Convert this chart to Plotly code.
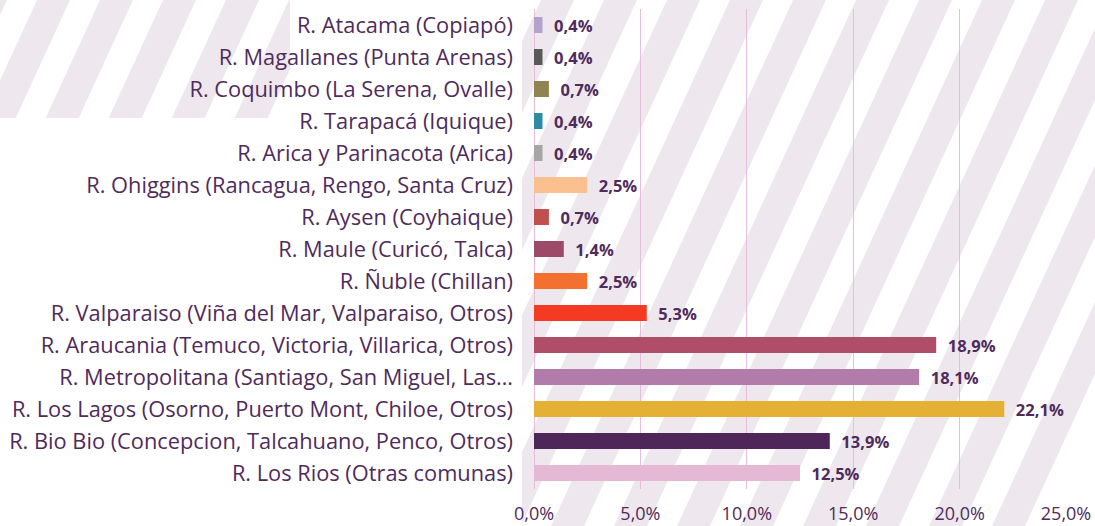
import plotly.graph_objects as go

# ---------------- data ----------------
regions = [
    "R. Atacama (Copiapó)",
    "R. Magallanes (Punta Arenas)",
    "R. Coquimbo (La Serena, Ovalle)",
    "R. Tarapacá (Iquique)",
    "R. Arica y Parinacota (Arica)",
    "R. Ohiggins (Rancagua, Rengo, Santa Cruz)",
    "R. Aysen (Coyhaique)",
    "R. Maule (Curicó, Talca)",
    "R. Ñuble (Chillan)",
    "R. Valparaiso (Viña del Mar, Valparaiso, Otros)",
    "R. Araucania (Temuco, Victoria, Villarica, Otros)",
    "R. Metropolitana (Santiago, San Miguel, Las…",
    "R. Los Lagos (Osorno, Puerto Mont, Chiloe, Otros)",
    "R. Bio Bio (Concepcion, Talcahuano, Penco, Otros)",
    "R. Los Rios (Otras comunas)",
]
values = [0.4, 0.4, 0.7, 0.4, 0.4, 2.5, 0.7, 1.4, 2.5, 5.3, 18.9, 18.1, 22.1, 13.9, 12.5]
bar_colors = [
    "#b3a2cc", "#595959", "#8f8452", "#2f8aa5", "#a6a6a6",
    "#fbc08f", "#c0504d", "#9c4a68", "#f47030", "#f43a22",
    "#b04e68", "#b17ca9", "#e4b134", "#4f2659", "#e5b9d5",
]
x_ticks = [0, 5, 10, 15, 20, 25]
x_tick_labels = [f"{v:.1f}%".replace(".", ",") for v in x_ticks]

TEXT = "#4f2b5c"
GRID = "#e6bedb"
STRIPE = "#eee8ee"

W, H = 1095, 526
ML, MR, MT, MB = 534, 29, 9, 37
PW, PH = W - ML - MR, H - MT - MB

fig = go.Figure(go.Bar(
    y=regions,
    x=values,
    orientation="h",
    marker=dict(color=bar_colors, line=dict(width=0)),
    width=0.5,
    texttemplate="\u00a0\u00a0%{x:.1f}%",
    textposition="outside",
    constraintext="none",
    cliponaxis=False,
    textfont=dict(family="Open Sans", size=16.5, color=TEXT, weight="bold"),
))

# ---------------- decorative diagonal stripes ----------------
def clip(poly, xmin, xmax, ymin, ymax):
    def clip_edge(pts, inside, inter):
        out = []
        n = len(pts)
        for i in range(n):
            cur, prev = pts[i], pts[i - 1]
            if inside(cur):
                if not inside(prev):
                    out.append(inter(prev, cur))
                out.append(cur)
            elif inside(prev):
                out.append(inter(prev, cur))
        return out

    def ix(xc):
        def f(p, q):
            t = (xc - p[0]) / (q[0] - p[0])
            return (xc, p[1] + t * (q[1] - p[1]))
        return f

    def iy(yc):
        def f(p, q):
            t = (yc - p[1]) / (q[1] - p[1])
            return (p[0] + t * (q[0] - p[0]), yc)
        return f

    pts = poly
    for inside, inter in [
        (lambda p: p[0] >= xmin, ix(xmin)),
        (lambda p: p[0] <= xmax, ix(xmax)),
        (lambda p: p[1] >= ymin, iy(ymin)),
        (lambda p: p[1] <= ymax, iy(ymax)),
    ]:
        if not pts:
            break
        pts = clip_edge(pts, inside, inter)
    return pts

# stripe geometry in figure pixels
slope, period, band, phase = 0.46, 63, 33, 667
clip_boxes = [(522, W, 0, H), (0, 290, 0, 118)]
shapes = []
for k in range(-14, 10):
    a = phase + period * k
    para = [(a, 0), (a + band, 0), (a + band - slope * H, H), (a - slope * H, H)]
    for box in clip_boxes:
        pts = clip(para, *box)
        if len(pts) < 3:
            continue
        path = "M " + " L ".join(
            f"{(px - ML) / PW:.5f},{(MT + PH - py) / PH:.5f}" for px, py in pts
        ) + " Z"
        shapes.append(dict(type="path", path=path, xref="paper", yref="paper",
                           fillcolor=STRIPE, line=dict(width=0), layer="below"))

fig.update_layout(
    width=W, height=H,
    margin=dict(l=ML, r=MR, t=MT, b=MB, pad=0, autoexpand=False),
    paper_bgcolor="white",
    plot_bgcolor="rgba(0,0,0,0)",
    separators=",.",
    showlegend=False,
    shapes=shapes,
    bargap=0.5,
    font=dict(family="Open Sans", color=TEXT),
    xaxis=dict(
        range=[0, 25],
        tickvals=x_ticks,
        ticktext=x_tick_labels,
        showgrid=True,
        gridcolor=GRID,
        gridwidth=1,
        zeroline=True,
        zerolinecolor=GRID,
        zerolinewidth=1,
        showline=False,
        ticks="",
        automargin=False,
        tickfont=dict(family="Open Sans", size=18, color=TEXT),
        ticklabelstandoff=12,
    ),
    yaxis=dict(
        autorange="reversed",
        showgrid=False,
        showline=False,
        ticks="",
        automargin=False,
        tickfont=dict(family="Open Sans", size=21.8, color=TEXT),
        ticklabelstandoff=20,
    ),
)

fig.write_html(
    "out.html",
    config={"displayModeBar": False},
    post_script="document.body.style.margin='0';document.body.style.overflow='hidden';",
)
